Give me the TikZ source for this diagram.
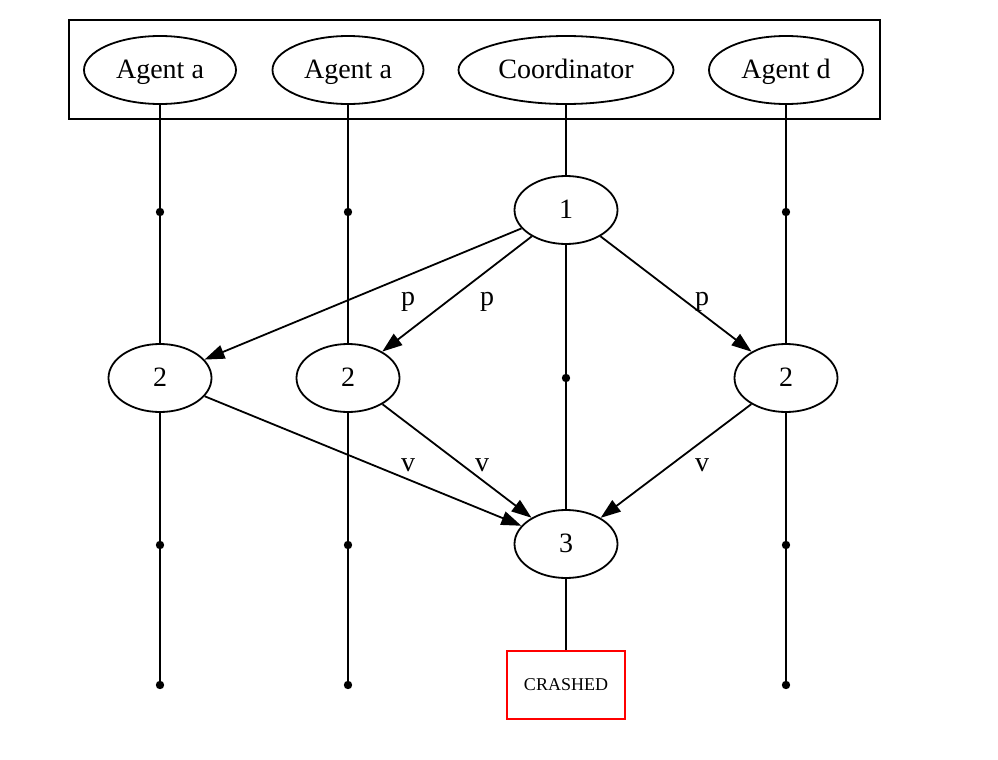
\documentclass[tikz,border=0pt]{standalone}
\usepackage{fontspec}
\setmainfont{Liberation Serif}
\usetikzlibrary{arrows.meta,shapes.geometric}
\begin{document}
\begin{tikzpicture}[x=0.5pt,y=-0.5pt,
  every path/.style={line width=0.9pt},
  ell/.style={draw,ellipse,inner sep=0pt,minimum height=34pt,text height=9.5pt,text depth=1.5pt,font=\fontsize{14}{16}\selectfont},
  num/.style={ell,minimum width=51.5pt},
  dot/.style={circle,fill=black,draw=none,inner sep=0pt,minimum size=4.2pt},
  arr/.style={-{Triangle[length=10pt,width=7pt]}},
  lbl/.style={font=\fontsize{14}{16}\selectfont,inner sep=0pt,text height=9.5pt,text depth=1.5pt},
  crash/.style={draw=red,rectangle,inner sep=0pt,minimum width=59pt,minimum height=34pt,font=\fontsize{9}{11}\selectfont}]
\useasboundingbox (0,0) rectangle (998,760);
% cluster
\node[draw,rectangle,inner sep=0pt,minimum width=405.5pt,minimum height=49.5pt] (cluster) at (474.5,69.5) {};
% top row
\node[ell,minimum width=76pt] (ta) at (160,70) {Agent a};
\node[ell,minimum width=75.5pt] (tb) at (348,70) {Agent a};
\node[ell,minimum width=107.5pt] (tc) at (566,70) {Coordinator};
\node[ell,minimum width=77pt] (td) at (786,70) {Agent d};
% nodes
\node[num] (n1) at (566,210) {1};
\node[num] (n2a) at (160,378) {2};
\node[num] (n2b) at (348,378) {2};
\node[num] (n2d) at (786,378) {2};
\node[num] (n3) at (566,544) {3};
\node[crash] (cr) at (566,685) {CRASHED};
% dots
\node[dot] (a1) at (160,212) {};
\node[dot] (b1) at (348,212) {};
\node[dot] (d1) at (786,212) {};
\node[dot] (c2) at (566,378) {};
\node[dot] (a3) at (160,545) {};
\node[dot] (b3) at (348,545) {};
\node[dot] (d3) at (786,545) {};
\node[dot] (a4) at (160,685) {};
\node[dot] (b4) at (348,685) {};
\node[dot] (d4) at (786,685) {};
% timelines
\draw (ta) -- (a1.center) -- (n2a);
\draw (n2a) -- (a3.center) -- (a4.center);
\draw (tb) -- (b1.center) -- (n2b);
\draw (n2b) -- (b3.center) -- (b4.center);
\draw (td) -- (d1.center) -- (n2d);
\draw (n2d) -- (d3.center) -- (d4.center);
\draw (tc) -- (n1);
\draw (n1) -- (c2.center) -- (n3);
\draw (n3) -- (cr);
% messages
\draw[arr] (n1) -- (n2a);
\draw[arr] (n1) -- (n2b);
\draw[arr] (n1) -- (n2d);
\draw[arr] (n2a) -- (n3);
\draw[arr] (n2b) -- (n3);
\draw[arr] (n2d) -- (n3);
% labels
\node[lbl] (lp1) at (408,297) {p};
\node[lbl] (lp2) at (487,297) {p};
\node[lbl] (lp3) at (702,297) {p};
\node[lbl] (lv1) at (408,463) {v};
\node[lbl] (lv2) at (482,463) {v};
\node[lbl] (lv3) at (702,463) {v};
\end{tikzpicture}
\end{document}
